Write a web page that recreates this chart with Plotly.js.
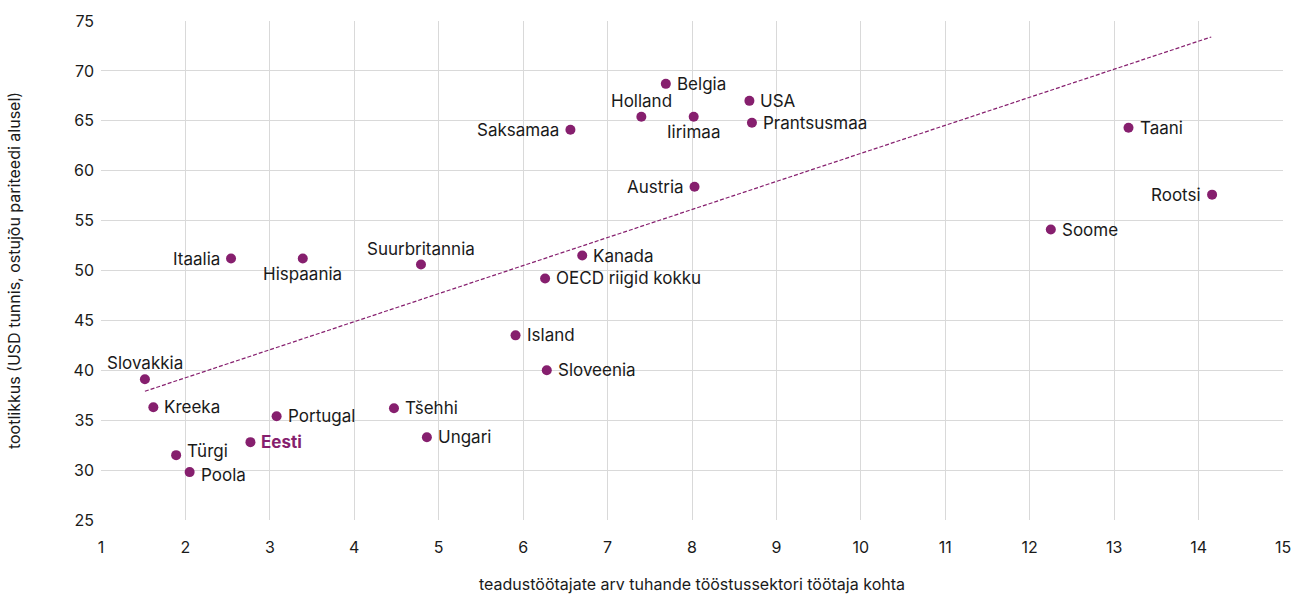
<!DOCTYPE html>
<html>
<head>
<meta charset="utf-8">
<script src="https://cdn.plot.ly/plotly-3.0.1.min.js"></script>
<style>html,body{margin:0;padding:0;background:#fff;}#chart{width:1293px;height:594px;}</style>
</head>
<body>
<div id="chart"></div>
<script>
const countries = ["Slovakkia","Kreeka","Türgi","Poola","Eesti","Portugal","Tšehhi","Ungari","Island","Sloveenia","Itaalia","Hispaania","Suurbritannia","Saksamaa","Holland","Belgia","Iirimaa","USA","Prantsusmaa","Austria","Kanada","OECD riigid kokku","Taani","Rootsi","Soome"];
const researchers = [1.52,1.62,1.89,2.05,2.77,3.08,4.47,4.86,5.91,6.28,2.54,3.39,4.79,6.56,7.40,7.69,8.02,8.68,8.71,8.03,6.70,6.26,13.17,14.16,12.25];
const productivity = [39.1,36.3,31.5,29.8,32.8,35.4,36.2,33.3,43.5,40.0,51.2,51.2,50.6,64.1,65.4,68.7,65.4,67.0,64.8,58.4,51.5,49.2,64.3,57.6,54.1];
const labelPos = ["top","right","right","right","right","right","right","right","right","right","left","bottom","top","left","top","right","bottom","right","right","left","right","right","right","left","right"];
const labelNudge = [0,0,4,-3,0,0,0,0,0,0,0,0,0,0,0,0,0,0,0,0,0,0,0,0,0];
const trendX = [1.52,14.15];
const trendY = [37.9,73.4];

const purple = "#861f6e";
const fontFam = "Inter, 'Noto Sans', sans-serif";

const traces = [
  {
    x: trendX, y: trendY, mode: "lines", type: "scatter",
    line: {color: purple, width: 1.2, dash: "4px,2px"},
    hoverinfo: "skip", showlegend: false
  },
  {
    x: researchers, y: productivity, mode: "markers", type: "scatter",
    marker: {color: purple, size: 10},
    cliponaxis: false, showlegend: false
  }
];

const annotations = countries.map((c, i) => {
  const p = labelPos[i];
  const isE = c === "Eesti";
  const a = {
    x: researchers[i], y: productivity[i], xref: "x", yref: "y",
    text: isE ? "<b>Eesti</b>" : c, showarrow: false,
    font: {family: fontFam, size: 17, color: isE ? purple : "#1a1a1a"},
    xanchor: "center", yanchor: "middle", xshift: 0, yshift: labelNudge[i]
  };
  if (p === "right") { a.xanchor = "left"; a.xshift = 9; }
  if (p === "left") { a.xanchor = "right"; a.xshift = -9; }
  if (p === "top") { a.yshift += 16; }
  if (p === "bottom") { a.yshift -= 15; }
  return a;
});

const layout = {
  width: 1293, height: 594,
  margin: {l: 101, r: 10, t: 21, b: 74},
  paper_bgcolor: "#fff", plot_bgcolor: "#fff",
  font: {family: fontFam, size: 16, color: "#1a1a1a"},
  annotations: annotations,
  xaxis: {
    range: [1, 15], dtick: 1, tick0: 1,
    showgrid: true, gridcolor: "#d9d9d9", gridwidth: 1,
    zeroline: false, showline: false, ticks: "",
    ticklabelstandoff: 16,
    tickfont: {size: 16},
    title: {text: "teadustöötajate arv tuhande tööstussektori töötaja kohta", font: {size: 16}, standoff: 30}
  },
  yaxis: {
    range: [25, 75], dtick: 5,
    showgrid: true, gridcolor: "#d9d9d9", gridwidth: 1,
    zeroline: false, showline: false, ticks: "",
    ticklabelstandoff: 6,
    tickfont: {size: 16},
    title: {text: "tootlikkus (USD tunnis, ostujõu pariteedi alusel)", font: {size: 16}, standoff: 48}
  }
};

Plotly.newPlot("chart", traces, layout, {displayModeBar: false, staticPlot: true});
</script>
</body>
</html>
